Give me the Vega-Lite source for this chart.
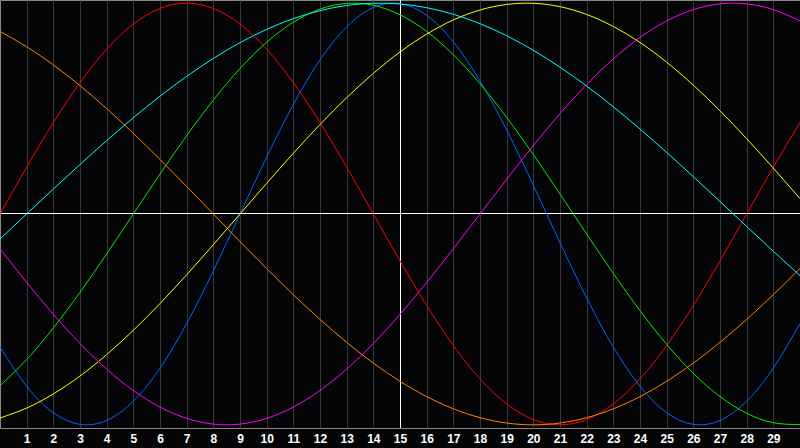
{
  "$schema": "https://vega.github.io/schema/vega-lite/v6.json",
  "width": 800,
  "height": 428,
  "autosize": {"type": "none"},
  "padding": {"left": 0, "top": 0, "right": 0, "bottom": 20},
  "background": "#050508",
  "config": {
    "view": {"stroke": "#8a8a8a", "strokeWidth": 1, "fill": "#050508"},
    "axisX": {
      "domain": false, "ticks": false, "tickSize": 0,
      "grid": true, "gridColor": "#383838", "gridWidth": 1, "gridOpacity": 1,
      "labelColor": "#ffffff", "labelFont": "Liberation Sans", "labelFontWeight": "bold",
      "labelFontSize": 12, "labelPadding": 5, "labelFlush": false, "labelOverlap": false, "title": null
    }
  },
  "data": {
    "values": [
      {"day":0,"cycle":"emotional","value":0},{"day":1,"cycle":"emotional","value":0.2225},{"day":2,"cycle":"emotional","value":0.4339},{"day":3,"cycle":"emotional","value":0.6235},{"day":4,"cycle":"emotional","value":0.7818},{"day":5,"cycle":"emotional","value":0.901},{"day":6,"cycle":"emotional","value":0.9749},{"day":7,"cycle":"emotional","value":1},{"day":8,"cycle":"emotional","value":0.9749},{"day":9,"cycle":"emotional","value":0.901},{"day":10,"cycle":"emotional","value":0.7818},{"day":11,"cycle":"emotional","value":0.6235},{"day":12,"cycle":"emotional","value":0.4339},{"day":13,"cycle":"emotional","value":0.2225},{"day":14,"cycle":"emotional","value":0},{"day":15,"cycle":"emotional","value":-0.2225},{"day":16,"cycle":"emotional","value":-0.4339},{"day":17,"cycle":"emotional","value":-0.6235},{"day":18,"cycle":"emotional","value":-0.7818},{"day":19,"cycle":"emotional","value":-0.901},{"day":20,"cycle":"emotional","value":-0.9749},{"day":21,"cycle":"emotional","value":-1},{"day":22,"cycle":"emotional","value":-0.9749},{"day":23,"cycle":"emotional","value":-0.901},{"day":24,"cycle":"emotional","value":-0.7818},{"day":25,"cycle":"emotional","value":-0.6235},{"day":26,"cycle":"emotional","value":-0.4339},{"day":27,"cycle":"emotional","value":-0.2225},{"day":28,"cycle":"emotional","value":0},{"day":29,"cycle":"emotional","value":0.2225},{"day":30,"cycle":"emotional","value":0.4339},
      {"day":0,"cycle":"physical","value":-0.6311},{"day":1,"cycle":"physical","value":-0.817},{"day":2,"cycle":"physical","value":-0.9423},{"day":3,"cycle":"physical","value":-0.9977},{"day":4,"cycle":"physical","value":-0.9791},{"day":5,"cycle":"physical","value":-0.888},{"day":6,"cycle":"physical","value":-0.7308},{"day":7,"cycle":"physical","value":-0.5196},{"day":8,"cycle":"physical","value":-0.2698},{"day":9,"cycle":"physical","value":0},{"day":10,"cycle":"physical","value":0.2698},{"day":11,"cycle":"physical","value":0.5196},{"day":12,"cycle":"physical","value":0.7308},{"day":13,"cycle":"physical","value":0.888},{"day":14,"cycle":"physical","value":0.9791},{"day":15,"cycle":"physical","value":0.9977},{"day":16,"cycle":"physical","value":0.9423},{"day":17,"cycle":"physical","value":0.817},{"day":18,"cycle":"physical","value":0.6311},{"day":19,"cycle":"physical","value":0.3984},{"day":20,"cycle":"physical","value":0.1362},{"day":21,"cycle":"physical","value":-0.1362},{"day":22,"cycle":"physical","value":-0.3984},{"day":23,"cycle":"physical","value":-0.6311},{"day":24,"cycle":"physical","value":-0.817},{"day":25,"cycle":"physical","value":-0.9423},{"day":26,"cycle":"physical","value":-0.9977},{"day":27,"cycle":"physical","value":-0.9791},{"day":28,"cycle":"physical","value":-0.888},{"day":29,"cycle":"physical","value":-0.7308},{"day":30,"cycle":"physical","value":-0.5196},
      {"day":0,"cycle":"intellectual","value":-0.8146},{"day":1,"cycle":"intellectual","value":-0.6901},{"day":2,"cycle":"intellectual","value":-0.5406},{"day":3,"cycle":"intellectual","value":-0.3717},{"day":4,"cycle":"intellectual","value":-0.1893},{"day":5,"cycle":"intellectual","value":0},{"day":6,"cycle":"intellectual","value":0.1893},{"day":7,"cycle":"intellectual","value":0.3717},{"day":8,"cycle":"intellectual","value":0.5406},{"day":9,"cycle":"intellectual","value":0.6901},{"day":10,"cycle":"intellectual","value":0.8146},{"day":11,"cycle":"intellectual","value":0.9096},{"day":12,"cycle":"intellectual","value":0.9718},{"day":13,"cycle":"intellectual","value":0.9989},{"day":14,"cycle":"intellectual","value":0.9898},{"day":15,"cycle":"intellectual","value":0.945},{"day":16,"cycle":"intellectual","value":0.866},{"day":17,"cycle":"intellectual","value":0.7557},{"day":18,"cycle":"intellectual","value":0.6182},{"day":19,"cycle":"intellectual","value":0.4582},{"day":20,"cycle":"intellectual","value":0.2817},{"day":21,"cycle":"intellectual","value":0.0951},{"day":22,"cycle":"intellectual","value":-0.0951},{"day":23,"cycle":"intellectual","value":-0.2817},{"day":24,"cycle":"intellectual","value":-0.4582},{"day":25,"cycle":"intellectual","value":-0.6182},{"day":26,"cycle":"intellectual","value":-0.7557},{"day":27,"cycle":"intellectual","value":-0.866},{"day":28,"cycle":"intellectual","value":-0.945},{"day":29,"cycle":"intellectual","value":-0.9898},{"day":30,"cycle":"intellectual","value":-0.9989},
      {"day":0,"cycle":"awareness","value":0.866},{"day":1,"cycle":"awareness","value":0.7934},{"day":2,"cycle":"awareness","value":0.7071},{"day":3,"cycle":"awareness","value":0.6088},{"day":4,"cycle":"awareness","value":0.5},{"day":5,"cycle":"awareness","value":0.3827},{"day":6,"cycle":"awareness","value":0.2588},{"day":7,"cycle":"awareness","value":0.1305},{"day":8,"cycle":"awareness","value":0},{"day":9,"cycle":"awareness","value":-0.1305},{"day":10,"cycle":"awareness","value":-0.2588},{"day":11,"cycle":"awareness","value":-0.3827},{"day":12,"cycle":"awareness","value":-0.5},{"day":13,"cycle":"awareness","value":-0.6088},{"day":14,"cycle":"awareness","value":-0.7071},{"day":15,"cycle":"awareness","value":-0.7934},{"day":16,"cycle":"awareness","value":-0.866},{"day":17,"cycle":"awareness","value":-0.9239},{"day":18,"cycle":"awareness","value":-0.9659},{"day":19,"cycle":"awareness","value":-0.9914},{"day":20,"cycle":"awareness","value":-1},{"day":21,"cycle":"awareness","value":-0.9914},{"day":22,"cycle":"awareness","value":-0.9659},{"day":23,"cycle":"awareness","value":-0.9239},{"day":24,"cycle":"awareness","value":-0.866},{"day":25,"cycle":"awareness","value":-0.7934},{"day":26,"cycle":"awareness","value":-0.7071},{"day":27,"cycle":"awareness","value":-0.6088},{"day":28,"cycle":"awareness","value":-0.5},{"day":29,"cycle":"awareness","value":-0.3827},{"day":30,"cycle":"awareness","value":-0.2588},
      {"day":0,"cycle":"aesthetic","value":-0.9675},{"day":1,"cycle":"aesthetic","value":-0.9204},{"day":2,"cycle":"aesthetic","value":-0.8533},{"day":3,"cycle":"aesthetic","value":-0.7685},{"day":4,"cycle":"aesthetic","value":-0.6671},{"day":5,"cycle":"aesthetic","value":-0.5517},{"day":6,"cycle":"aesthetic","value":-0.4245},{"day":7,"cycle":"aesthetic","value":-0.2881},{"day":8,"cycle":"aesthetic","value":-0.1456},{"day":9,"cycle":"aesthetic","value":0},{"day":10,"cycle":"aesthetic","value":0.1456},{"day":11,"cycle":"aesthetic","value":0.2881},{"day":12,"cycle":"aesthetic","value":0.4245},{"day":13,"cycle":"aesthetic","value":0.5517},{"day":14,"cycle":"aesthetic","value":0.6671},{"day":15,"cycle":"aesthetic","value":0.7685},{"day":16,"cycle":"aesthetic","value":0.8533},{"day":17,"cycle":"aesthetic","value":0.9204},{"day":18,"cycle":"aesthetic","value":0.9675},{"day":19,"cycle":"aesthetic","value":0.994},{"day":20,"cycle":"aesthetic","value":0.9993},{"day":21,"cycle":"aesthetic","value":0.9834},{"day":22,"cycle":"aesthetic","value":0.9465},{"day":23,"cycle":"aesthetic","value":0.8893},{"day":24,"cycle":"aesthetic","value":0.8133},{"day":25,"cycle":"aesthetic","value":0.72},{"day":26,"cycle":"aesthetic","value":0.6111},{"day":27,"cycle":"aesthetic","value":0.4894},{"day":28,"cycle":"aesthetic","value":0.3572},{"day":29,"cycle":"aesthetic","value":0.2174},{"day":30,"cycle":"aesthetic","value":0.073},
      {"day":0,"cycle":"intuitive","value":-0.1646},{"day":1,"cycle":"intuitive","value":-0.3247},{"day":2,"cycle":"intuitive","value":-0.4759},{"day":3,"cycle":"intuitive","value":-0.6142},{"day":4,"cycle":"intuitive","value":-0.7357},{"day":5,"cycle":"intuitive","value":-0.8372},{"day":6,"cycle":"intuitive","value":-0.9158},{"day":7,"cycle":"intuitive","value":-0.9694},{"day":8,"cycle":"intuitive","value":-0.9966},{"day":9,"cycle":"intuitive","value":-0.9966},{"day":10,"cycle":"intuitive","value":-0.9694},{"day":11,"cycle":"intuitive","value":-0.9158},{"day":12,"cycle":"intuitive","value":-0.8372},{"day":13,"cycle":"intuitive","value":-0.7357},{"day":14,"cycle":"intuitive","value":-0.6142},{"day":15,"cycle":"intuitive","value":-0.4759},{"day":16,"cycle":"intuitive","value":-0.3247},{"day":17,"cycle":"intuitive","value":-0.1646},{"day":18,"cycle":"intuitive","value":0},{"day":19,"cycle":"intuitive","value":0.1646},{"day":20,"cycle":"intuitive","value":0.3247},{"day":21,"cycle":"intuitive","value":0.4759},{"day":22,"cycle":"intuitive","value":0.6142},{"day":23,"cycle":"intuitive","value":0.7357},{"day":24,"cycle":"intuitive","value":0.8372},{"day":25,"cycle":"intuitive","value":0.9158},{"day":26,"cycle":"intuitive","value":0.9694},{"day":27,"cycle":"intuitive","value":0.9966},{"day":28,"cycle":"intuitive","value":0.9966},{"day":29,"cycle":"intuitive","value":0.9694},{"day":30,"cycle":"intuitive","value":0.9158},
      {"day":0,"cycle":"spiritual","value":-0.1183},{"day":1,"cycle":"spiritual","value":0},{"day":2,"cycle":"spiritual","value":0.1183},{"day":3,"cycle":"spiritual","value":0.2349},{"day":4,"cycle":"spiritual","value":0.3482},{"day":5,"cycle":"spiritual","value":0.4566},{"day":6,"cycle":"spiritual","value":0.5586},{"day":7,"cycle":"spiritual","value":0.6528},{"day":8,"cycle":"spiritual","value":0.738},{"day":9,"cycle":"spiritual","value":0.8127},{"day":10,"cycle":"spiritual","value":0.8759},{"day":11,"cycle":"spiritual","value":0.9267},{"day":12,"cycle":"spiritual","value":0.9646},{"day":13,"cycle":"spiritual","value":0.989},{"day":14,"cycle":"spiritual","value":0.9996},{"day":15,"cycle":"spiritual","value":0.996},{"day":16,"cycle":"spiritual","value":0.9786},{"day":17,"cycle":"spiritual","value":0.9473},{"day":18,"cycle":"spiritual","value":0.9027},{"day":19,"cycle":"spiritual","value":0.8456},{"day":20,"cycle":"spiritual","value":0.7765},{"day":21,"cycle":"spiritual","value":0.6965},{"day":22,"cycle":"spiritual","value":0.6068},{"day":23,"cycle":"spiritual","value":0.5084},{"day":24,"cycle":"spiritual","value":0.4031},{"day":25,"cycle":"spiritual","value":0.2921},{"day":26,"cycle":"spiritual","value":0.1769},{"day":27,"cycle":"spiritual","value":0.0592},{"day":28,"cycle":"spiritual","value":-0.0592},{"day":29,"cycle":"spiritual","value":-0.1769},{"day":30,"cycle":"spiritual","value":-0.2921}
    ]
  },
  "layer": [
    {
      "mark": {"type": "rule", "color": "#ffffff", "strokeWidth": 1, "xOffset": 0.5},
      "encoding": {
        "x": {
          "datum": 15, "type": "quantitative",
          "scale": {"domain": [0, 30], "nice": false},
          "axis": {"values": [1,2,3,4,5,6,7,8,9,10,11,12,13,14,15,16,17,18,19,20,21,22,23,24,25,26,27,28,29]}
        }
      }
    },
    {
      "mark": {"type": "rule", "color": "#ffffff", "strokeWidth": 1, "yOffset": -0.5},
      "encoding": {
        "y": {
          "datum": 0, "type": "quantitative",
          "scale": {"domain": [-1.015, 1.015], "nice": false, "zero": false},
          "axis": null
        }
      }
    },
    {
      "mark": {"type": "line", "interpolate": "natural", "strokeWidth": 1},
      "encoding": {
        "x": {
          "field": "day", "type": "quantitative",
          "scale": {"domain": [0, 30], "nice": false},
          "axis": {"values": [1,2,3,4,5,6,7,8,9,10,11,12,13,14,15,16,17,18,19,20,21,22,23,24,25,26,27,28,29]}
        },
        "y": {
          "field": "value", "type": "quantitative",
          "scale": {"domain": [-1.015, 1.015], "nice": false, "zero": false},
          "axis": null
        },
        "color": {
          "field": "cycle", "type": "nominal",
          "scale": {
            "domain": ["emotional", "physical", "intellectual", "awareness", "aesthetic", "intuitive", "spiritual"],
            "range": ["#ff0000", "#0066ff", "#00ee00", "#ff8000", "#ffff00", "#ff00ff", "#00ffff"]
          },
          "legend": null
        }
      }
    }
  ]
}
